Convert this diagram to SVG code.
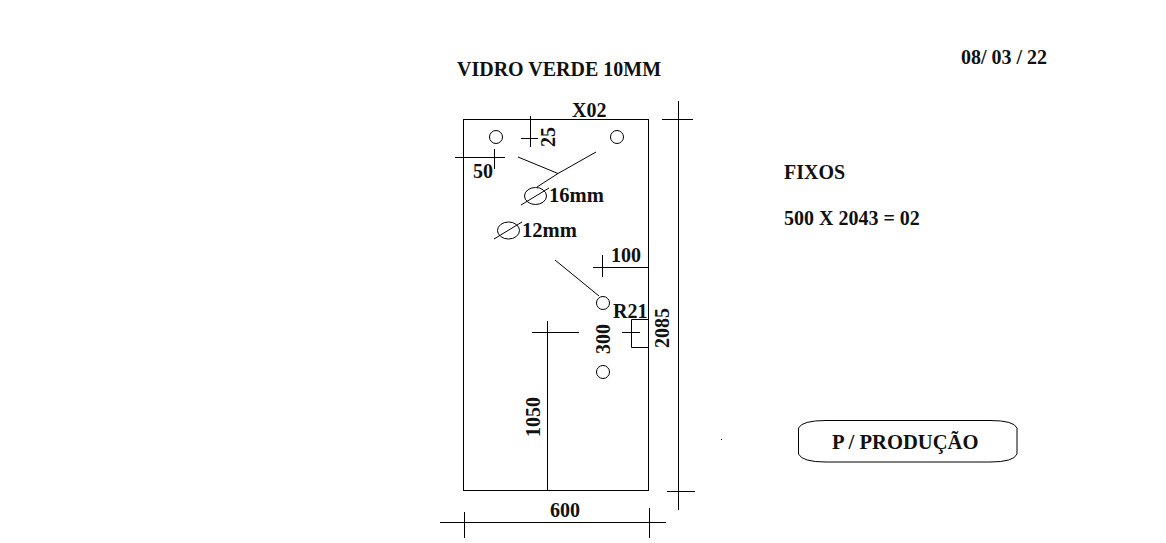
<svg xmlns="http://www.w3.org/2000/svg" width="1166" height="543" viewBox="0 0 1166 543">
<style>
.l{stroke:#000;stroke-width:1;fill:none}
.t{font-family:"Liberation Serif","Times New Roman",serif;font-weight:bold;font-size:20px;fill:#111}
</style>
<rect width="1166" height="543" fill="#fff"/>
<g id="glass"><rect class="l" x="463.5" y="119.5" width="185" height="371"/></g>
<g id="holes">
<circle class="l" cx="496" cy="137" r="6.5"/>
<circle class="l" cx="617" cy="137" r="6.5"/>
<circle class="l" cx="603" cy="303" r="6.5"/>
<circle class="l" cx="603" cy="372" r="6.5"/>
<ellipse class="l" cx="535.500" cy="196" rx="11" ry="8.5"/>
<ellipse class="l" cx="508.500" cy="230.500" rx="11" ry="8.5"/>
</g>
<g id="connectors">
<path class="l" d="M530.500 116V147M521 138.500H538"/>
<path class="l" d="M455 157.500H505M494.500 149V169"/>
<path class="l" d="M518 157L558 173.500M596 152L558 173.500L537 187"/>
<path class="l" d="M521 205L549 188"/>
<path class="l" d="M494 239L522 222"/>
<path class="l" d="M555 260L599 296"/>
<path class="l" d="M602.500 255V277M593 267.500H648"/>
<path class="l" d="M631.500 319.500H648M631.500 319.500V347.500H648M622 332.500H640"/>
<path class="l" d="M547.500 321V490M532 332.500H579"/>
<path class="l" d="M678.500 101V510M662 119.500H693M667 491.500H695"/>
<path class="l" d="M440 522.500H666M464.500 512V538M649.500 508V538"/>
<path class="l" d="M721 439.500H722"/>
</g>
<g id="stamp"><path class="l" d="M798.500 428Q802 420.500 826 420.500H990Q1014 420.500 1017 428V454Q1014 462 990 462H826Q802 462 798.500 454Z"/></g>
<g id="labels">
<text class="t" x="457" y="75.500">VIDRO VERDE 10MM</text>
<text class="t" x="961" y="63.500">08/ 03 / 22</text>
<text class="t" x="572" y="116.500">X02</text>
<text class="t" transform="translate(555 147) rotate(-90)">25</text>
<text class="t" x="473" y="177.500">50</text>
<text class="t" x="549" y="201.500" style="font-size:20.600px">16mm</text>
<text class="t" x="522" y="236.500" style="font-size:20.600px">12mm</text>
<text class="t" x="611" y="261.500">100</text>
<text class="t" x="613" y="317.500">R21</text>
<text class="t" transform="translate(669 348) rotate(-90)">2085</text>
<text class="t" transform="translate(609.500 354) rotate(-90)">300</text>
<text class="t" transform="translate(539.500 437) rotate(-90)">1050</text>
<text class="t" x="550" y="516.500">600</text>
<text class="t" x="784" y="178.500">FIXOS</text>
<text class="t" x="784" y="224.500">500 X 2043 = 02</text>
<text class="t" x="832" y="448.500" style="font-size:20.600px">P / PRODUÇÃO</text>
</g>
</svg>
